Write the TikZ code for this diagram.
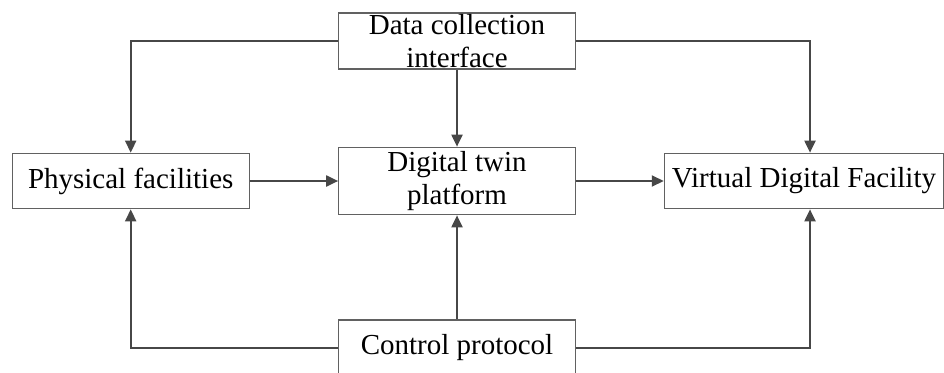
\documentclass[tikz,border=0pt]{standalone}
\usepackage{fontspec}
\setmainfont{Liberation Serif}
\usetikzlibrary{arrows.meta}
\begin{document}
\begin{tikzpicture}[x=1pt,y=-1pt,
  box/.style={draw=black!62,line width=1.1pt,fill=white,inner sep=0pt,align=center,
    font=\fontsize{29}{33}\selectfont},
  conn/.style={draw=black!72,line width=2pt,-{Triangle[length=12pt,width=11pt]}}]
\useasboundingbox (0,0) rectangle (944,372);
\clip (0,0) rectangle (944,372);
\fill[white] (0,0) rectangle (944,372);
\node[box,minimum width=236.6pt,minimum height=56pt] (dc) at (457,41) {Data collection\\interface};
\node[box,minimum width=237.3pt,minimum height=55.6pt] (pf) at (130.7,181) {Physical facilities};
\node[box,minimum width=236.6pt,minimum height=67.6pt] (dt) at (457,181) {Digital twin\\platform};
\node[box,minimum width=279.4pt,minimum height=55.6pt] (vdf) at (804,181) {Virtual Digital Facility};
\node[box,minimum width=236.6pt,minimum height=56pt] (cp) at (457,348) {Control protocol};
\draw[conn] (dc.west) -| (pf.north);
\draw[conn] (dc.east) -| ([xshift=6pt]vdf.north);
\draw[conn] (dc.south) -- (dt.north);
\draw[conn] (pf.east) -- (dt.west);
\draw[conn] (dt.east) -- (vdf.west);
\draw[conn] (cp.west) -| (pf.south);
\draw[conn] (cp.north) -- (dt.south);
\draw[conn] (cp.east) -| ([xshift=6pt]vdf.south);
\end{tikzpicture}
\end{document}
